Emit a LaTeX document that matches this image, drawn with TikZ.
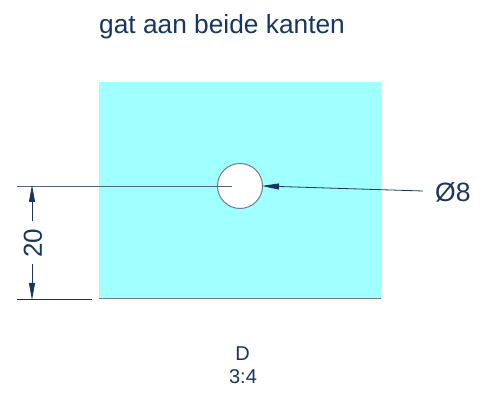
\documentclass[tikz,border=0pt]{standalone}
\usepackage{fontspec}
\setmainfont{Liberation Sans}
\usetikzlibrary{arrows.meta}
\definecolor{ink}{RGB}{22,54,96}
\definecolor{fillcyan}{RGB}{160,255,255}
\definecolor{edgegray}{RGB}{110,125,135}
\tikzset{
  txt/.style={text=ink,inner sep=0pt,font=\fontsize{#1}{#1}\selectfont},
  dimline/.style={draw=ink,line width=0.8pt},
  tip/.style={-{Triangle[length=17pt,width=6pt]},shorten >=-1pt},
}
\begin{document}
\begin{tikzpicture}[x=1pt,y=-1pt]
\useasboundingbox (0,0) rectangle (493,406);
\fill[fillcyan] (99,82) rectangle (381,299);
\coordinate (bl) at (99,299);
\coordinate (br) at (381,299);
\draw[edgegray,line width=1pt] (bl) -- (br);
\node[circle,draw=edgegray,fill=white,line width=1pt,minimum size=45pt,inner sep=0pt] (hole) at (240,186) {};
% extension lines
\coordinate (e1a) at (17,186);
\coordinate (e1b) at (232,186);
\coordinate (e2a) at (17,299);
\coordinate (e2b) at (92,299);
\draw[dimline,draw=ink!75!white] (e1a) -- (e1b);
\draw[dimline] (e2a) -- (e2b);
% dimension 20
\coordinate (d1) at (32,186);
\coordinate (d1i) at (32,221.5);
\coordinate (d2) at (32,299);
\coordinate (d2i) at (32,264);
\draw[dimline,tip] (d1i) -- (d1);
\draw[dimline,tip] (d2i) -- (d2);
\node[txt=26,rotate=90] (twenty) at (33,243) {20};
% leader
\coordinate (lead) at (423,191);
\draw[dimline,tip] (lead) -- (hole.east);
\node[txt=26.5,anchor=west] (dia) at (435,192) {Ø8};
% texts
\node[txt=26.3,anchor=base west] (title) at (99,34) {gat aan beide kanten};
\node[txt=20] (lblD) at (242.5,353.5) {D};
\node[txt=20] (lblS) at (243,377) {3:4};
\end{tikzpicture}
\end{document}
